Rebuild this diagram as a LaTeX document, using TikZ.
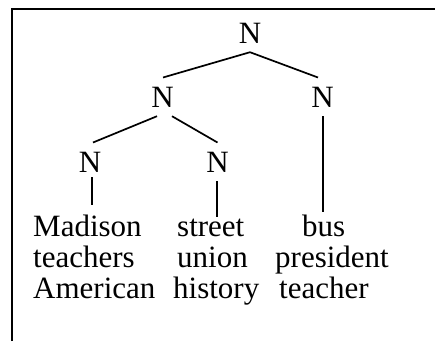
\documentclass[tikz,border=0pt]{standalone}
\usepackage{fontspec}
\setmainfont{Liberation Serif}
\begin{document}
\begin{tikzpicture}[x=1pt,y=-1pt,
  cat/.style={font=\fontsize{31}{31.5}\selectfont, inner xsep=0pt, inner ysep=9pt, anchor=base},
  word/.style={font=\fontsize{31}{31.5}\selectfont, inner sep=0pt, anchor=base west},
  edge/.style={line width=1.7pt},
  frame/.style={line width=2pt}]
\useasboundingbox (0,0) rectangle (435,341);
\draw[frame] (11.5,341) -- (11.5,8.5) -- (435,8.5);
% category nodes
\node[cat] (root) at (250,43) {N};
\node[cat] (n2l) at (162.5,107) {N};
\node[cat] (n2r) at (322.5,107) {N};
\node[cat] (n3a) at (90,172) {N};
\node[cat] (n3b) at (217.5,172) {N};
% words
\node[word] (mad) at (33,236) {Madison};
\node[word] (tea) at (33,267) {teachers};
\node[word] (ame) at (33,298) {American};
\node[word] (str) at (177,236) {street};
\node[word] (uni) at (177,267) {union};
\node[word] (his) at (173,298) {history};
\node[word] (bus) at (302,236) {bus};
\node[word] (pre) at (275,267) {president};
\node[word] (tch) at (279,298) {teacher};
% edges
\draw[edge] (root.south) -- ([xshift=0.5pt]n2l.north);
\draw[edge] (root.south) -- ([xshift=-4.5pt]n2r.north);
\draw[edge] ([xshift=-5.5pt]n2l.south) -- ([xshift=3pt]n3a.north);
\draw[edge] ([xshift=9.5pt]n2l.south) -- (n3b.north);
\draw[edge, shorten <=-4pt, shorten >=9pt] ([xshift=2pt]n3a.south) -- ([xshift=2pt]n3a.south |- mad.north);
\draw[edge, shorten >=1.5pt] ([xshift=-0.5pt]n3b.south) -- ([xshift=-0.5pt]n3b.south |- str.north);
\draw[edge, shorten >=2.5pt] ([xshift=0.5pt]n2r.south) -- ([xshift=0.5pt]n2r.south |- bus.north);
\end{tikzpicture}
\end{document}
